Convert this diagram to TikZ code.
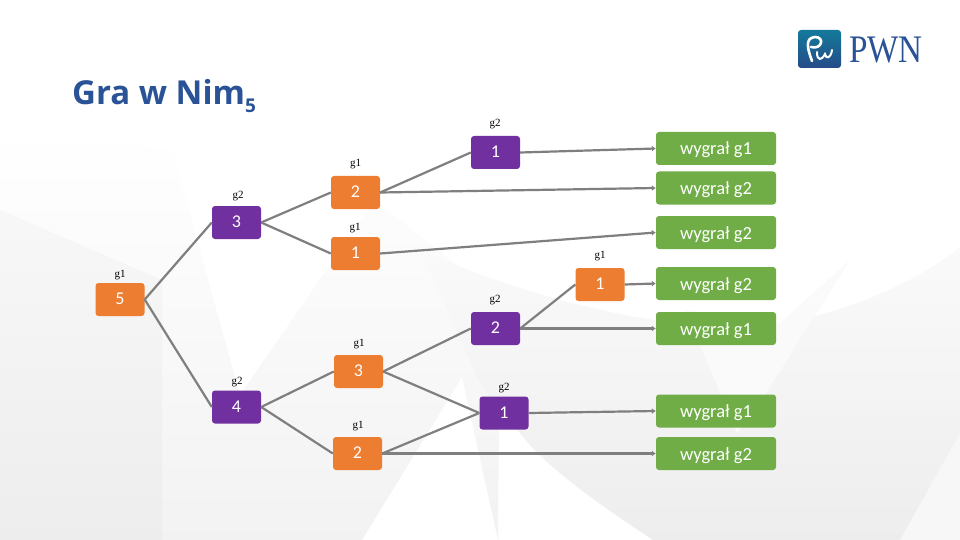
\documentclass[tikz,border=0pt]{standalone}
\usepackage{fontspec}
\setmainfont{Carlito}
\newfontfamily\titlefont{Open Sans}
\newfontfamily\smallfont{Liberation Serif}
\usetikzlibrary{arrows.meta}
\definecolor{pwnblue}{HTML}{2A5397}
\definecolor{boxorange}{HTML}{ED7D31}
\definecolor{boxpurple}{HTML}{7030A0}
\definecolor{boxgreen}{HTML}{70AD47}
\definecolor{edgegray}{HTML}{7F7F7F}
\tikzset{
    move/.style={rounded corners=3pt, minimum width=49pt, minimum height=33pt, inner sep=0pt, text=white, text height=10pt, text depth=0pt, font=\fontsize{18}{20}\selectfont},
    first/.style={move, fill=boxorange},
    second/.style={move, fill=boxpurple},
    won/.style={move, fill=boxgreen, minimum width=120pt, text height=13pt, font=\fontsize{18.5}{20}\selectfont},
    player/.style={font=\smallfont\fontsize{11}{12}\selectfont, inner sep=0pt},
    edge/.style={draw=edgegray, line width=2.2pt},
    final/.style={edge, -{Latex[length=4pt,width=6pt]}}
}
\begin{document}
\begin{tikzpicture}[x=1pt, y=-1pt]
    \useasboundingbox (0,0) rectangle (960,540);
    % background
    \fill[white] (0,0) rectangle (960,540);
    \shade[top color=white, middle color=black!4, bottom color=black!5] (0,130) -- (172,150) -- (240,395) -- (375,200) -- (500,300) -- (498,540) -- (462,377) -- (362,540) -- (0,540) -- cycle;
    \shade[top color=black!3, middle color=black!7, bottom color=black!7] (0,210) -- (162,280) -- (162,540) -- (0,540) -- cycle;
    \shade[top color=black!2, middle color=black!7, bottom color=black!7] (420,250) .. controls (520,295) and (680,340) .. (780,323) .. controls (850,312) and (920,280) .. (960,247) -- (960,540) -- (653,540) .. controls (600,505) and (550,470) .. (523,437) -- (480,383) -- cycle;
    \fill[black!2] (685,310) -- (737,433) -- (770,387) -- (850,260) -- (780,323) -- cycle;
    \fill[black!3] (960,433) -- (900,540) -- (960,540) -- cycle;
    % title and logo
    \node[anchor=base west, text=pwnblue, inner sep=0pt, font=\titlefont\bfseries\fontsize{33}{36}\selectfont] (title) at (72,105) {Gra w Nim\raisebox{-8pt}{\fontsize{19}{20}\selectfont 5}};
    \shade[top color=pwnblue!60!cyan!80!black, bottom color=pwnblue!90!black, rounded corners=3pt] (798,30) rectangle (841,68);
    \draw[white, line width=2.6pt, line cap=round] (812,61) .. controls (808,50) and (804,38) .. (815,37) .. controls (825,37) and (822,50) .. (811,47);
    \draw[white, line width=2pt, line cap=round] (817,52) .. controls (817,62) and (822,60) .. (825,54) .. controls (826,60) and (831,58) .. (832,50);
    \node[anchor=base west, text=pwnblue, inner sep=0pt, xscale=0.85, font=\smallfont\fontsize{39}{40}\selectfont] (logo) at (849,63) {PWN};
    % game tree
    \node[first] (n5) at (120,299.5) {5};
    \node[second] (n3) at (236.5,222.5) {3};
    \node[second] (n4) at (236.5,407) {4};
    \node[first] (a2) at (355.5,192.5) {2};
    \node[first] (a1) at (355.5,253.5) {1};
    \node[first] (b3) at (358.5,371.5) {3};
    \node[first] (b2) at (357.5,453.5) {2};
    \node[second] (c1) at (495.5,152.5) {1};
    \node[second] (c2) at (495.5,328.5) {2};
    \node[second] (c3) at (504,413) {1};
    \node[first] (d1) at (600,284.5) {1};
    \node[won] (w1) at (716,148.5) {wygrał g1};
    \node[won] (w2) at (716,188) {wygrał g2};
    \node[won] (w3) at (716,232.5) {wygrał g2};
    \node[won] (w4) at (716,283.5) {wygrał g2};
    \node[won] (w5) at (716,328.5) {wygrał g1};
    \node[won] (w6) at (716,411) {wygrał g1};
    \node[won] (w7) at (716,453.5) {wygrał g2};
    \foreach \name/\txt/\x/\y in {n5/g1/120/275, n3/g2/238/196, n4/g2/237/382, a2/g1/355.5/164, a1/g1/355/228, b3/g1/359/344, b2/g1/358/426, c1/g2/495/124, c2/g2/495/300, c3/g2/504/388, d1/g1/600/256}
        \node[player] (p\name) at (\x,\y) {\txt};
    \foreach \from/\to in {n5/n3, n5/n4, n3/a2, n3/a1, n4/b3, n4/b2, a2/c1, b3/c2, b3/c3, b2/c3, c2/d1}
        \draw[edge] (\from.east) -- (\to.west);
    \foreach \from/\to in {c1/w1, a2/w2, a1/w3, d1/w4, c2/w5, c3/w6, b2/w7}
        \draw[final] (\from.east) -- (\to.west);
\end{tikzpicture}
\end{document}
